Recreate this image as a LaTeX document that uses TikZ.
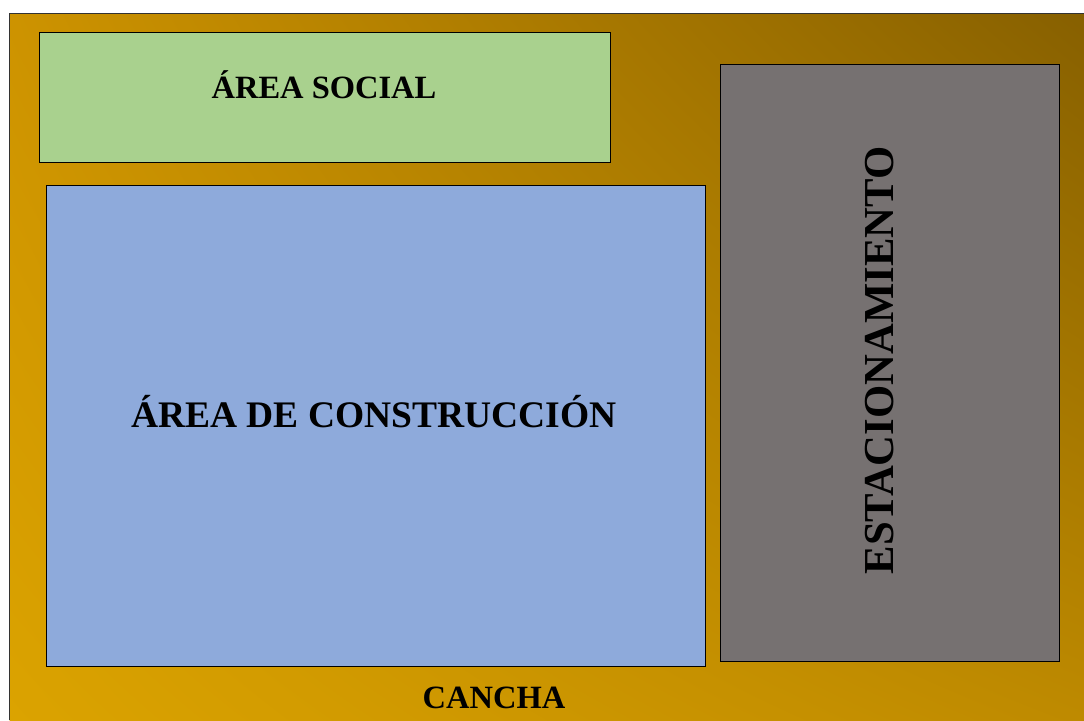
\documentclass[tikz,border=0pt]{standalone}
\usepackage{fontspec}
\usetikzlibrary{shadings}
\setmainfont{Liberation Serif}
\definecolor{gTL}{HTML}{CD9300}
\definecolor{gTR}{HTML}{876000}
\definecolor{gBL}{HTML}{DBA300}
\definecolor{gBR}{HTML}{BE8A00}
\definecolor{social}{HTML}{A9D18E}
\definecolor{constr}{HTML}{8EAADB}
\definecolor{parking}{HTML}{767171}
\tikzset{
  zone/.style={draw=black, line width=0.9pt},
  lbl/.style={anchor=base, inner sep=0pt, font=\bfseries}
}
\begin{document}
\begin{tikzpicture}[x=1pt,y=-1pt]
\useasboundingbox (0,0) rectangle (1084,720);
\fill[white] (0,0) rectangle (1084,720);
\shade[upper left=gTL, upper right=gTR, lower left=gBL, lower right=gBR] (9.5,13.5) rectangle (1084,720);
\draw[line width=1pt, black!80] (9.5,720) -- (9.5,13.5) -- (1084,13.5);
\node[zone, fill=social, minimum width=571pt, minimum height=130pt, anchor=north west, inner sep=0pt] (social) at (39.3,32.3) {};
\node[zone, fill=constr, minimum width=659pt, minimum height=481pt, anchor=north west, inner sep=0pt] (constr) at (46.2,185.2) {};
\node[zone, fill=parking, minimum width=339pt, minimum height=597pt, anchor=north west, inner sep=0pt] (parking) at (720.2,64.2) {};
\node[lbl, font=\bfseries\fontsize{32.5}{36}\selectfont] (tsocial) at (324,98.5) {ÁREA SOCIAL};
\node[lbl, font=\bfseries\fontsize{37.5}{42}\selectfont] (tconstr) at (374,427.5) {ÁREA DE CONSTRUCCIÓN};
\node[lbl, rotate=90, font=\bfseries\fontsize{42.7}{46}\selectfont] (tpark) at (893,360.5) {ESTACIONAMIENTO};
\node[lbl, font=\bfseries\fontsize{32.5}{36}\selectfont] (tcancha) at (494,708) {CANCHA};
\end{tikzpicture}
\end{document}
